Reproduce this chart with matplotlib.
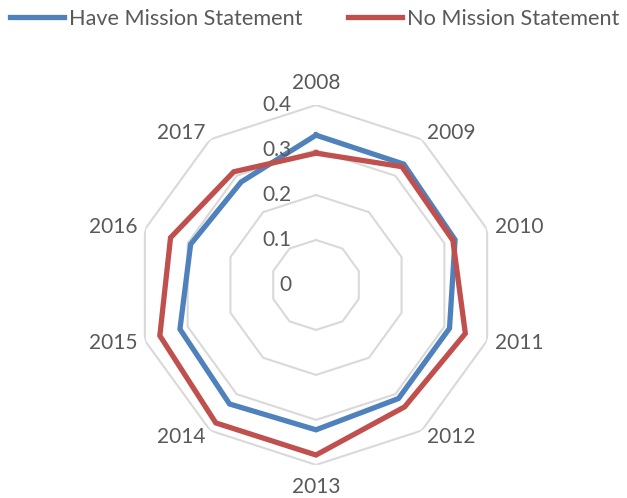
import numpy as np
import matplotlib
matplotlib.use("Agg")
import matplotlib.pyplot as plt
from matplotlib import transforms

years = ["2008", "2009", "2010", "2011", "2012", "2013", "2014", "2015", "2016", "2017"]
have_mission = [0.333, 0.332, 0.325, 0.312, 0.312, 0.322, 0.327, 0.318, 0.293, 0.283]
no_mission = [0.293, 0.325, 0.320, 0.349, 0.335, 0.378, 0.379, 0.365, 0.340, 0.311]
rings = [0, 0.1, 0.2, 0.3, 0.4]
ring_labels = ["0", "0.1", "0.2", "0.3", "0.4"]

plt.rcParams["font.family"] = ["Lato", "DejaVu Sans"]
txt_color = "#595959"
grid_color = "#D9D9D9"
fs = 15

fig = plt.figure(figsize=(6.27, 4.98), dpi=100)
ax = fig.add_axes([0.217, 0.0663, 0.574, 0.723], projection="polar")
ax.set_theta_zero_location("N")
ax.set_theta_direction(-1)
ax.set_ylim(0, 0.4)
ax.grid(False)
ax.spines["polar"].set_visible(False)
ax.set_xticks([])
ax.set_yticks([])
ax.patch.set_alpha(0)

n = len(years)
angles = np.linspace(0, 2 * np.pi, n, endpoint=False)
closed = np.append(angles, angles[0])

# polygon grid (no spokes, like excel)
for r in rings[1:]:
    ax.plot(closed, [r] * (n + 1), color=grid_color, lw=1.5, zorder=1)

ax.plot(closed, have_mission + have_mission[:1], color="#4F81BD", lw=3.8,
        label="Have Mission Statement", zorder=3, solid_joinstyle="miter")
ax.plot(closed, no_mission + no_mission[:1], color="#C0504D", lw=3.8,
        label="No Mission Statement", zorder=3, solid_joinstyle="miter")

# category labels
for a, y in zip(angles, years):
    s = np.sin(a)
    if abs(s) < 0.01:
        ax.text(a, 0.449, y, ha="center", va="center", fontsize=fs, color=txt_color)
    elif s > 0:
        ax.text(a, 0.418, y, ha="left", va="center", fontsize=fs, color=txt_color)
    else:
        ax.text(a, 0.418, y, ha="right", va="center", fontsize=fs, color=txt_color)

# radial labels
off = transforms.offset_copy(ax.transData, fig=fig, x=-25, y=0, units="dots")
for r, lab in zip(rings, ring_labels):
    ax.text(0, r, lab, transform=off, ha="right", va="center", fontsize=fs,
            color=txt_color, zorder=4)

fig.legend(loc="center", bbox_to_anchor=(0.502, 0.962), ncol=2, frameon=False,
           fontsize=15.6, handlelength=2.5, handletextpad=0.23, columnspacing=2.08,
           labelcolor=txt_color)

fig.savefig("out.png", dpi=100)
